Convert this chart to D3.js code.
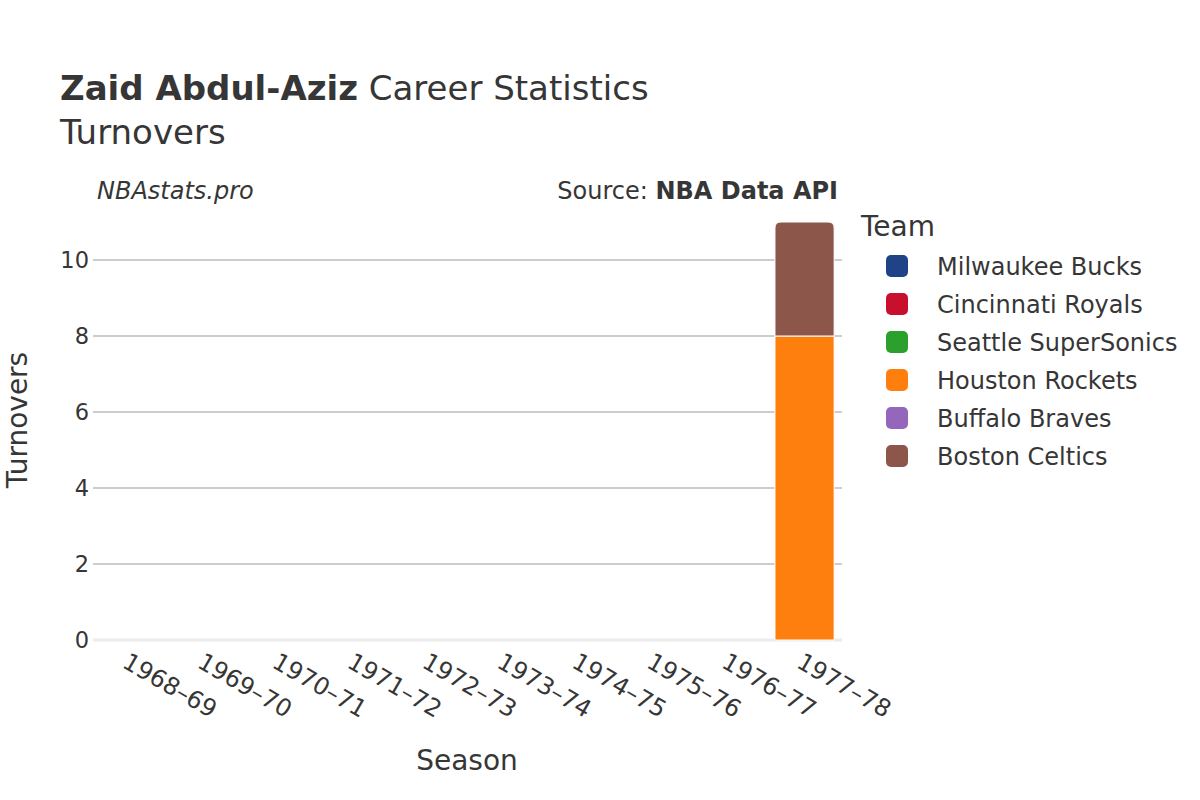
<!DOCTYPE html>
<html>
<head>
<meta charset="utf-8">
<script src="https://cdn.jsdelivr.net/npm/d3@7"></script>
<style>
  html, body { margin: 0; padding: 0; background: #fff; }
  svg { display: block; font-family: "DejaVu Sans", sans-serif; }
</style>
</head>
<body>
<svg id="chart" width="1200" height="800"></svg>
<script>
const seasons = ["1968–69","1969–70","1970–71","1971–72","1972–73","1973–74","1974–75","1975–76","1976–77","1977–78"];
const teams = ["Milwaukee Bucks","Cincinnati Royals","Seattle SuperSonics","Houston Rockets","Buffalo Braves","Boston Celtics"];
const teamColors = ["#1f4386","#c8102e","#2ca02c","#ff7f0e","#9467bd","#8c564b"];
// turnovers per team per season (null = not recorded)
const milwaukeeBucks    = [null,null,null,null,null,null,null,null,null,null];
const cincinnatiRoyals  = [null,null,null,null,null,null,null,null,null,null];
const seattleSuperSonics= [null,null,null,null,null,null,null,null,null,null];
const houstonRockets    = [null,null,null,null,null,null,null,null,null,8];
const buffaloBraves     = [null,null,null,null,null,null,null,null,null,null];
const bostonCeltics     = [null,null,null,null,null,null,null,null,null,3];
const yTicks = [0,2,4,6,8,10];

const seriesValues = [milwaukeeBucks, cincinnatiRoyals, seattleSuperSonics, houstonRockets, buffaloBraves, bostonCeltics];

const svg = d3.select("#chart");
const textColor = "#363636";

const x0 = 93, x1 = 842, yBase = 640;

const x = d3.scaleBand().domain(seasons).range([x0, x1]).paddingInner(0.21).paddingOuter(0.105);
const y = d3.scaleLinear().domain([0, 10]).range([yBase, 260]);

// gridlines
svg.append("g").selectAll("line").data(yTicks.filter(d => d !== 0)).join("line")
  .attr("x1", x0).attr("x2", x1)
  .attr("y1", d => y(d)).attr("y2", d => y(d))
  .attr("stroke", "#bdbdbd").attr("stroke-width", 1.3);

// zero line
svg.append("line").attr("x1", x0).attr("x2", x1).attr("y1", y(0)).attr("y2", y(0))
  .attr("stroke", "#ebebeb").attr("stroke-width", 3);

// y tick labels
svg.append("g").selectAll("text").data(yTicks).join("text")
  .attr("x", 89).attr("y", d => y(d)).attr("dy", "0.36em")
  .attr("text-anchor", "end").attr("font-size", 22.5).attr("fill", textColor)
  .text(d => d);

// stacked data
const rows = seasons.map((s, i) => {
  const r = {season: s};
  teams.forEach((t, j) => { r[t] = seriesValues[j][i] || 0; });
  return r;
});
const stack = d3.stack().keys(teams)(rows);

const topIdx = seasons.map((s, i) => {
  let idx = -1;
  teams.forEach((t, j) => { if (rows[i][t] > 0) idx = j; });
  return idx;
});

function barPath(xl, w, yTop, yBot, r) {
  r = Math.min(r, w / 2, (yBot - yTop));
  return `M${xl},${yBot}V${yTop + r}Q${xl},${yTop} ${xl + r},${yTop}H${xl + w - r}Q${xl + w},${yTop} ${xl + w},${yTop + r}V${yBot}Z`;
}

const bars = svg.append("g");
stack.forEach((layer, j) => {
  layer.forEach((seg, i) => {
    const v = seg[1] - seg[0];
    if (v <= 0) return;
    const xl = x(seasons[i]), w = x.bandwidth();
    const yt = y(seg[1]), yb = y(seg[0]);
    const rad = topIdx[i] === j ? 6 : 0;
    bars.append("path")
      .attr("d", barPath(xl, w, yt, yb, rad))
      .attr("fill", teamColors[j])
      .attr("stroke", "#fff").attr("stroke-width", 1);
  });
});

// x tick labels rotated
svg.append("g").selectAll("text").data(seasons).join("text")
  .attr("transform", d => `translate(${x(d) + x.bandwidth() / 2 - 1},${652}) rotate(30)`)
  .attr("text-anchor", "start").attr("font-size", 24).attr("fill", textColor)
  .attr("dy", "0.7em")
  .text(d => d);

// axis titles
svg.append("text").attr("x", 467).attr("y", 770).attr("text-anchor", "middle")
  .attr("font-size", 28).attr("fill", textColor).text("Season");
svg.append("text").attr("transform", "translate(27,420) rotate(-90)").attr("text-anchor", "middle")
  .attr("font-size", 28).attr("fill", textColor).text("Turnovers");

// title
const title = svg.append("text").attr("x", 60).attr("y", 100).attr("font-size", 34).attr("fill", textColor);
title.append("tspan").attr("font-weight", "bold").text("Zaid Abdul-Aziz");
title.append("tspan").text(" Career Statistics");
svg.append("text").attr("x", 60).attr("y", 144).attr("font-size", 34).attr("fill", textColor).text("Turnovers");

// watermark and source
svg.append("text").attr("x", 97).attr("y", 199).attr("font-size", 24).attr("font-style", "italic")
  .attr("fill", textColor).text("NBAstats.pro");
const src = svg.append("text").attr("x", 838).attr("y", 199).attr("text-anchor", "end")
  .attr("font-size", 24).attr("fill", textColor);
src.append("tspan").text("Source: ");
src.append("tspan").attr("font-weight", "bold").text("NBA Data API");

// legend
svg.append("text").attr("x", 861).attr("y", 236).attr("font-size", 28).attr("fill", textColor).text("Team");
const leg = svg.append("g").selectAll("g").data(teams).join("g")
  .attr("transform", (d, i) => `translate(886,${266 + i * 38})`);
leg.append("rect").attr("x", 0).attr("y", -11).attr("width", 22).attr("height", 22).attr("rx", 5)
  .attr("fill", (d, i) => teamColors[i]);
leg.append("text").attr("x", 51).attr("y", 0).attr("dy", "0.36em").attr("font-size", 24)
  .attr("fill", textColor).text(d => d);
</script>
</body>
</html>
